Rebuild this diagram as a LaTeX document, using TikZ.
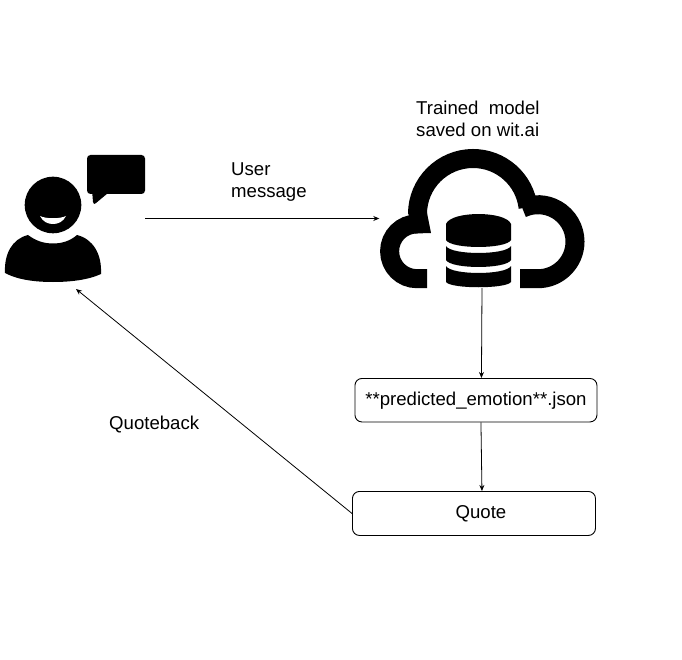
\documentclass[tikz,border=0pt]{standalone}
\usepackage{fontspec}
\setmainfont{Liberation Sans}
\usetikzlibrary{arrows.meta}
\tikzset{
  conn/.style={draw=black,line width=0.8pt,-{Stealth[length=6pt,width=5pt]}},
  boxn/.style={draw=black,line width=0.9pt,rounded corners=7pt,inner sep=0pt,anchor=north west,text=black},
  lab/.style={inner sep=0pt,anchor=base west,font=\fontsize{18.6}{22}\selectfont,text=black,align=left},
  iconarea/.style={inner sep=0pt,draw=none},
  band/.style={draw=black,line width=19pt,line cap=butt}
}
\begin{document}
\begin{tikzpicture}[x=1pt,y=-1pt]
\useasboundingbox (0,0) rectangle (682,660);
\fill[white] (0,0) rectangle (682,660);
% user icon
\fill[black] (53,205) circle[radius=28.3pt];
\fill[white] (40,216) .. controls (46,219) and (60,219) .. (66,216) .. controls (63,222) and (58,224) .. (53,224) .. controls (48,224) and (43,222) .. (40,216) -- cycle;
\fill[black] (28,235) .. controls (36,241) and (44,243.5) .. (53,243.5) .. controls (62,243.5) and (70,241) .. (77,235)
  .. controls (93,239) and (102,254) .. (101,274) .. controls (88,280) and (70,282) .. (53,282) .. controls (36,282) and (18,280) .. (5,273)
  .. controls (4,254) and (12,239) .. (28,235) -- cycle;
\fill[black,rounded corners=3.5pt] (87,155) rectangle (145,194);
\fill[black] (92,190) -- (93,202) .. controls (93,204.5) and (95,204.5) .. (96,203) -- (108,193) -- cycle;
\node[iconarea,minimum width=145pt,minimum height=127pt] (user) at (72.5,218.5) {};
% cloud icon
\draw[band] (427,278.7) -- (417,278.7) arc[start angle=270,end angle=90,radius=27.4pt];
\draw[band] (417.5,214) arc[start angle=180,end angle=7,radius=55.5pt];
\draw[band] (520,278.7) -- (538,278.7) arc[start angle=-90,end angle=115,radius=37pt];
\fill[black] (408,213) -- (427,213) -- (431,233) -- (415,233.5) -- cycle;
\node[iconarea,minimum width=205pt,minimum height=139pt] (cloud) at (482,218.5) {};
% database
\fill[black] (446,224) .. controls (451,210.7) and (506,210.7) .. (511,224) -- (511,240) .. controls (506,249.3) and (451,249.3) .. (446,240) -- cycle;
\fill[black] (446,246) .. controls (451,255.3) and (506,255.3) .. (511,246) -- (511,260) .. controls (506,269.3) and (451,269.3) .. (446,260) -- cycle;
\fill[black] (446,266) .. controls (451,275.3) and (506,275.3) .. (511,266) -- (511,282) .. controls (506,289) and (451,289) .. (446,282) -- cycle;
% boxes
\node[boxn,minimum width=242pt,minimum height=43.5pt,font=\fontsize{18.6}{22}\selectfont] (pred) at (354.5,378) {**predicted\_emotion**.json};
\node[boxn,minimum width=243pt,minimum height=44pt,font=\fontsize{18.6}{22}\selectfont] (quote) at (352,491) {\hspace*{14pt}Quote};
% labels
\node[lab] (trained) at (416,137) {Trained\ \ model\\[0pt]saved on wit.ai};
\node[lab] (usermsg) at (231,198) {User\\[0pt]message};
\node[lab] (quoteback) at (109,429) {Quoteback};
% connectors
\draw[conn] (user.east) -- (cloud.west);
\draw[conn] (cloud.south) -- ([xshift=5.5pt]pred.north);
\draw[conn] ([xshift=5pt]pred.south) -- ([xshift=8pt]quote.north);
\coordinate (userfoot) at (76,289);
\draw[conn] (quote.west) -- (userfoot);
\end{tikzpicture}
\end{document}
